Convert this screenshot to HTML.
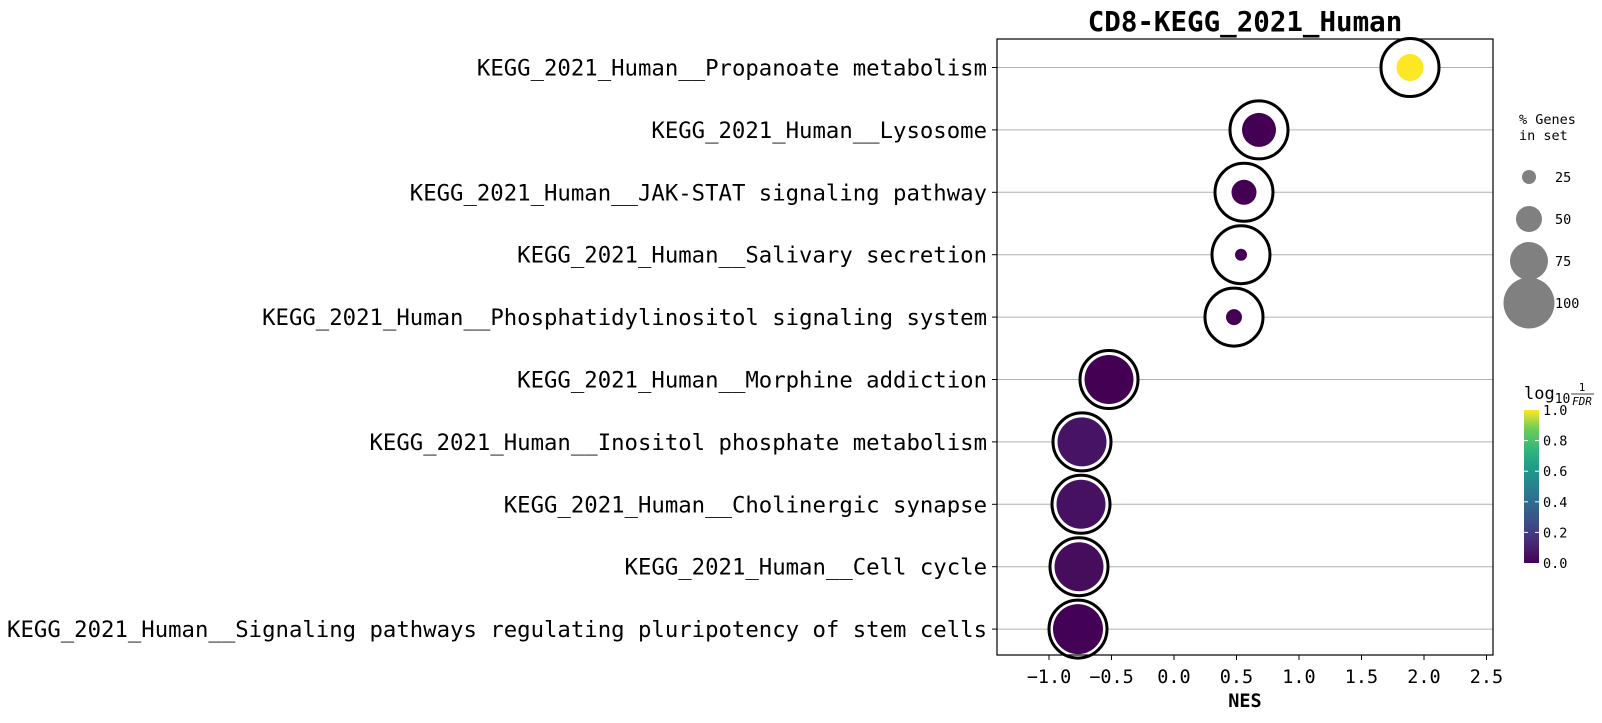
<!DOCTYPE html>
<html><head><meta charset="utf-8"><style>
html,body{margin:0;padding:0;background:#fff;}
svg text{font-family:"DejaVu Sans Mono","Liberation Mono",monospace;}
</style></head><body>
<svg width="1602" height="718" xmlns="http://www.w3.org/2000/svg">
<defs>
<linearGradient id="vir" x1="0" y1="1" x2="0" y2="0">
<stop offset="0" stop-color="#440154"/><stop offset="0.13" stop-color="#482878"/>
<stop offset="0.25" stop-color="#3e4989"/><stop offset="0.38" stop-color="#31688e"/>
<stop offset="0.5" stop-color="#26828e"/><stop offset="0.63" stop-color="#1f9e89"/>
<stop offset="0.75" stop-color="#35b779"/><stop offset="0.88" stop-color="#6ece58"/>
<stop offset="1" stop-color="#fde725"/></linearGradient>
</defs>
<text x="1245" y="31" font-size="27.5" font-weight="bold" text-anchor="middle">CD8-KEGG_2021_Human</text>
<g stroke="#b0b0b0" stroke-width="1">
<line x1="997" x2="1493" y1="67.5" y2="67.5"/><line x1="997" x2="1493" y1="129.9" y2="129.9"/>
<line x1="997" x2="1493" y1="192.3" y2="192.3"/><line x1="997" x2="1493" y1="254.7" y2="254.7"/>
<line x1="997" x2="1493" y1="317.1" y2="317.1"/><line x1="997" x2="1493" y1="379.5" y2="379.5"/>
<line x1="997" x2="1493" y1="441.9" y2="441.9"/><line x1="997" x2="1493" y1="504.3" y2="504.3"/>
<line x1="997" x2="1493" y1="566.7" y2="566.7"/><line x1="997" x2="1493" y1="629.1" y2="629.1"/>
</g>
<g font-size="22.3" text-anchor="end">
<text x="987" y="75.5">KEGG_2021_Human__Propanoate metabolism</text>
<text x="987" y="137.9">KEGG_2021_Human__Lysosome</text>
<text x="987" y="200.3">KEGG_2021_Human__JAK-STAT signaling pathway</text>
<text x="987" y="262.7">KEGG_2021_Human__Salivary secretion</text>
<text x="987" y="325.1">KEGG_2021_Human__Phosphatidylinositol signaling system</text>
<text x="987" y="387.5">KEGG_2021_Human__Morphine addiction</text>
<text x="987" y="449.9">KEGG_2021_Human__Inositol phosphate metabolism</text>
<text x="987" y="512.3">KEGG_2021_Human__Cholinergic synapse</text>
<text x="987" y="574.7">KEGG_2021_Human__Cell cycle</text>
<text x="987" y="637.1">KEGG_2021_Human__Signaling pathways regulating pluripotency of stem cells</text>
</g>
<g stroke="#000" stroke-width="1">
<line x1="992" x2="997" y1="67.5" y2="67.5"/><line x1="992" x2="997" y1="129.9" y2="129.9"/>
<line x1="992" x2="997" y1="192.3" y2="192.3"/><line x1="992" x2="997" y1="254.7" y2="254.7"/>
<line x1="992" x2="997" y1="317.1" y2="317.1"/><line x1="992" x2="997" y1="379.5" y2="379.5"/>
<line x1="992" x2="997" y1="441.9" y2="441.9"/><line x1="992" x2="997" y1="504.3" y2="504.3"/>
<line x1="992" x2="997" y1="566.7" y2="566.7"/><line x1="992" x2="997" y1="629.1" y2="629.1"/>
<line x1="1049" x2="1049" y1="655" y2="660"/><line x1="1111.5" x2="1111.5" y1="655" y2="660"/>
<line x1="1174" x2="1174" y1="655" y2="660"/><line x1="1236.5" x2="1236.5" y1="655" y2="660"/>
<line x1="1299" x2="1299" y1="655" y2="660"/><line x1="1361.5" x2="1361.5" y1="655" y2="660"/>
<line x1="1424" x2="1424" y1="655" y2="660"/><line x1="1486.5" x2="1486.5" y1="655" y2="660"/>
</g>
<g font-size="18.5" text-anchor="middle">
<text x="1049" y="683">−1.0</text><text x="1111.5" y="683">−0.5</text><text x="1174" y="683">0.0</text>
<text x="1236.5" y="683">0.5</text><text x="1299" y="683">1.0</text><text x="1361.5" y="683">1.5</text>
<text x="1424" y="683">2.0</text><text x="1486.5" y="683">2.5</text>
</g>
<text x="1245" y="707" font-size="18.5" font-weight="bold" text-anchor="middle">NES</text>
<g stroke="#000" stroke-width="3" fill="#fff">
<circle cx="1410" cy="67.5" r="29"/><circle cx="1259" cy="129.9" r="29"/>
<circle cx="1244" cy="192.3" r="29"/><circle cx="1241" cy="254.7" r="29"/>
<circle cx="1234" cy="317.1" r="29"/><circle cx="1109" cy="379.5" r="29"/>
<circle cx="1082" cy="441.9" r="29"/><circle cx="1081" cy="504.3" r="29"/>
<circle cx="1079" cy="566.7" r="29"/><circle cx="1078" cy="629.1" r="29"/>
</g>
<circle cx="1410" cy="67.5" r="13.5" fill="#fde725"/>
<circle cx="1259" cy="129.9" r="17" fill="#440154"/>
<circle cx="1244" cy="192.3" r="12.5" fill="#440154"/>
<circle cx="1241" cy="254.7" r="6" fill="#440154"/>
<circle cx="1234" cy="317.1" r="8" fill="#440154"/>
<circle cx="1109" cy="379.5" r="24.5" fill="#440154"/>
<circle cx="1082" cy="441.9" r="24.5" fill="#471365"/>
<circle cx="1081" cy="504.3" r="24.5" fill="#461160"/>
<circle cx="1079" cy="566.7" r="24.5" fill="#450d5b"/>
<circle cx="1078" cy="629.1" r="25" fill="#440256"/>
<rect x="997" y="39" width="496" height="616" fill="none" stroke="#000" stroke-width="1.2"/>
<g font-size="13.5">
<text x="1519" y="124">% Genes</text><text x="1519" y="140">in set</text>
<text x="1555" y="182">25</text><text x="1555" y="224">50</text>
<text x="1555" y="266">75</text><text x="1555" y="308">100</text>
</g>
<g fill="#808080">
<circle cx="1529" cy="177" r="7"/><circle cx="1529" cy="219" r="13"/>
<circle cx="1529" cy="261" r="19"/><circle cx="1529" cy="303" r="25.5"/>
</g>
<text x="1524" y="399" font-size="17" font-family="DejaVu Sans,sans-serif">log<tspan font-size="13" dy="4">10</tspan></text>
<text x="1582" y="391" font-size="11" font-family="DejaVu Sans,sans-serif" text-anchor="middle">1</text>
<line x1="1571" x2="1594" y1="394" y2="394" stroke="#000" stroke-width="0.8"/>
<text x="1582" y="405" font-size="11" font-style="italic" font-family="DejaVu Sans,sans-serif" text-anchor="middle">FDR</text>
<rect x="1524" y="410" width="15" height="153" fill="url(#vir)"/>
<g stroke="#fff" stroke-width="1">
<line x1="1524" x2="1528" y1="440.6" y2="440.6"/><line x1="1535" x2="1539" y1="440.6" y2="440.6"/>
<line x1="1524" x2="1528" y1="471.2" y2="471.2"/><line x1="1535" x2="1539" y1="471.2" y2="471.2"/>
<line x1="1524" x2="1528" y1="501.8" y2="501.8"/><line x1="1535" x2="1539" y1="501.8" y2="501.8"/>
<line x1="1524" x2="1528" y1="532.4" y2="532.4"/><line x1="1535" x2="1539" y1="532.4" y2="532.4"/>
</g>
<g font-size="13.5">
<text x="1543" y="415">1.0</text><text x="1543" y="445.6">0.8</text><text x="1543" y="476.2">0.6</text>
<text x="1543" y="506.8">0.4</text><text x="1543" y="537.4">0.2</text><text x="1543" y="568">0.0</text>
</g>
</svg>
</body></html>
